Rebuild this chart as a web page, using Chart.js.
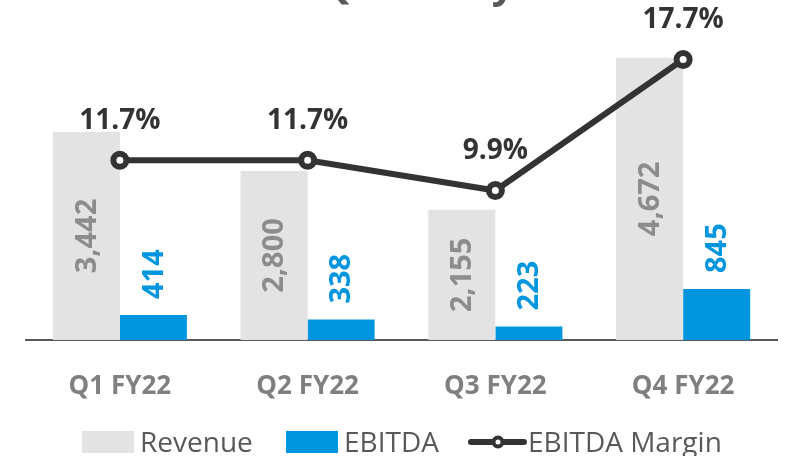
<!DOCTYPE html>
<html>
<head>
<meta charset="utf-8">
<script src="https://cdn.jsdelivr.net/npm/chart.js@4.4.1/dist/chart.umd.min.js"></script>
<style>
  html, body { margin: 0; padding: 0; background: #fff; }
  canvas { display: block; }
</style>
</head>
<body>
<canvas id="chart" width="785" height="456"></canvas>
<script>
// chart data
const quarters = ['Q1 FY22', 'Q2 FY22', 'Q3 FY22', 'Q4 FY22'];
const revenue = [3442, 2800, 2155, 4672];
const ebitda = [414, 338, 223, 845];
const margin = [11.7, 11.7, 9.9, 17.7];

const GREY_BAR = '#e3e3e3';
const BLUE = '#0096df';
const DARK = '#333333';
const FONT = '"Open Sans", sans-serif';

// value labels: rotated numbers on the bars, percentages over the line
const valueLabels = {
  id: 'valueLabels',
  afterDatasetsDraw(chart) {
    const ctx = chart.ctx;
    ctx.save();
    ctx.font = 'bold 29px ' + FONT;
    ctx.textBaseline = 'middle';

    chart.getDatasetMeta(0).data.forEach((bar, i) => {
      ctx.save();
      ctx.translate(bar.x + 1, (bar.y + bar.base) / 2);
      ctx.rotate(-Math.PI / 2);
      ctx.textAlign = 'center';
      ctx.fillStyle = '#8c8c8c';
      ctx.fillText(revenue[i].toLocaleString('en-US'), 0, 0);
      ctx.restore();
    });

    chart.getDatasetMeta(1).data.forEach((bar, i) => {
      ctx.save();
      ctx.translate(bar.x + 1, bar.y - 16);
      ctx.rotate(-Math.PI / 2);
      ctx.textAlign = 'left';
      ctx.fillStyle = BLUE;
      ctx.fillText(ebitda[i].toLocaleString('en-US'), 0, 0);
      ctx.restore();
    });

    ctx.font = 'bold 28px ' + FONT;
    ctx.textAlign = 'center';
    ctx.textBaseline = 'alphabetic';
    ctx.fillStyle = DARK;
    chart.getDatasetMeta(2).data.forEach((pt, i) => {
      ctx.fillText(margin[i].toFixed(1) + '%', pt.x, pt.y - 31);
    });
    ctx.restore();
  }
};

// cropped slide title and the legend row
const extras = {
  id: 'extras',
  afterDraw(chart) {
    const ctx = chart.ctx;
    ctx.save();
    ctx.font = 'bold 40px ' + FONT;
    ctx.fillStyle = '#595959';
    ctx.textAlign = 'left';
    ctx.textBaseline = 'alphabetic';
    ctx.fillText('Quarterly', 320, -2);

    ctx.font = '28px ' + FONT;
    const y = 442;
    ctx.fillStyle = GREY_BAR;
    ctx.fillRect(82, 431, 52, 22);
    ctx.fillStyle = '#595959';
    ctx.fillText('Revenue', 140, 452);

    ctx.fillStyle = BLUE;
    ctx.fillRect(286, 431, 52, 22);
    ctx.fillStyle = '#595959';
    ctx.fillText('EBITDA', 344, 452);

    ctx.strokeStyle = DARK;
    ctx.lineWidth = 6;
    ctx.lineCap = 'round';
    ctx.beginPath();
    ctx.moveTo(471, y);
    ctx.lineTo(524, y);
    ctx.stroke();
    ctx.beginPath();
    ctx.arc(498, y, 4.5, 0, Math.PI * 2);
    ctx.fillStyle = '#fff';
    ctx.fill();
    ctx.lineWidth = 4;
    ctx.stroke();
    ctx.fillStyle = '#595959';
    ctx.fillText('EBITDA Margin', 528, 452);
    ctx.restore();
  }
};

new Chart(document.getElementById('chart'), {
  data: {
    labels: quarters,
    datasets: [
      { type: 'bar', label: 'Revenue', data: revenue, backgroundColor: GREY_BAR,
        yAxisID: 'y', order: 2, barPercentage: 1, categoryPercentage: 0.714 },
      { type: 'bar', label: 'EBITDA', data: ebitda, backgroundColor: BLUE,
        yAxisID: 'y', order: 2, barPercentage: 1, categoryPercentage: 0.714 },
      { type: 'line', label: 'EBITDA Margin', data: margin, yAxisID: 'y1', order: 1,
        borderColor: DARK, borderWidth: 6, pointRadius: 6.5, pointBorderWidth: 6,
        pointBackgroundColor: '#fff', pointBorderColor: DARK, tension: 0, clip: false }
    ]
  },
  options: {
    responsive: false,
    devicePixelRatio: 1,
    animation: false,
    layout: { autoPadding: false, padding: { top: 4, left: 26, right: 8, bottom: 22.8 } },
    plugins: { legend: { display: false }, tooltip: { enabled: false } },
    scales: {
      x: {
        grid: { display: false, drawTicks: false },
        border: { display: true, color: '#595959', width: 2 },
        ticks: { color: '#7f7f7f', padding: 31, font: { family: FONT, size: 26, weight: 'bold' } }
      },
      y: { display: false, min: 0, max: 5563 },
      y1: { display: false, min: 1, max: 21 }
    }
  },
  plugins: [valueLabels, extras]
});
</script>
</body>
</html>
